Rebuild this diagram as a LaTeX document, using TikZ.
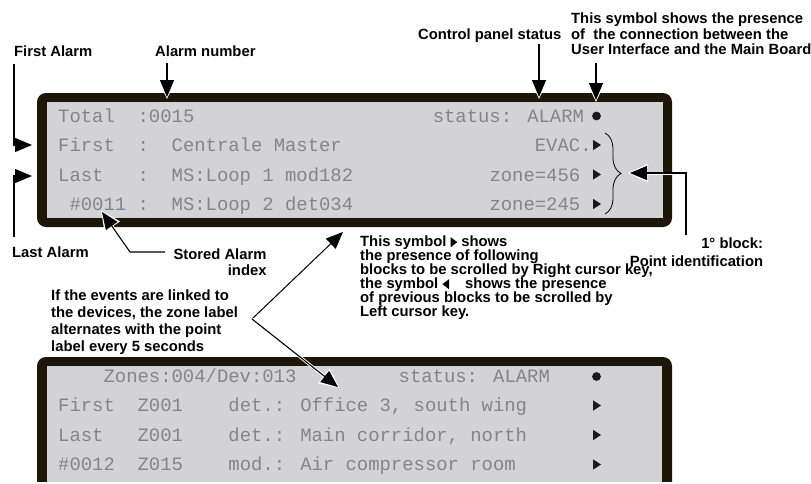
\documentclass[tikz,border=0pt]{standalone}
\usepackage{fontspec}
\setmainfont{Liberation Sans}
\newfontfamily\lcdfont{Liberation Mono}
\usetikzlibrary{arrows.meta,decorations.pathreplacing}
\definecolor{frame}{HTML}{1E1609}
\definecolor{lcdbg}{HTML}{D3D3D5}
\definecolor{lcdtxt}{HTML}{858585}
\definecolor{dotc}{HTML}{1A1A1A}
\newcommand\rtri{\tikz[x=1pt,y=1pt,baseline=0pt]\fill (0,-1)--(0,9)--(6.6,4)--cycle;}
\newcommand\ltri{\tikz[x=1pt,y=1pt,baseline=0pt]\fill (6.6,-1)--(6.6,9)--(0,4)--cycle;}
\newcommand\lcd[4]{\node[lcd] (#1) at ({58+#2*11.35},#3) {#4};}
\tikzset{
  lbl/.style={font=\fontsize{14.8}{16}\selectfont\bfseries, inner sep=0pt},
  lcd/.style={font=\lcdfont\fontsize{18.9}{20}\selectfont, text=lcdtxt, inner sep=0pt, anchor=base west},
  arr/.style={line width=1.1pt, -{Triangle[length=17pt,width=14pt]},
    preaction={draw=white, line width=3pt, shorten >=-2pt, -{Triangle[length=20pt,width=18pt]}}},
  plainarr/.style={line width=1pt, -{Triangle[length=17pt,width=14pt]}},
  rtrifill/.style={fill=dotc},
}
\begin{document}
\begin{tikzpicture}[x=1pt,y=-1pt]
\useasboundingbox (0,0) rectangle (811,483);
% ---------- top panel
\fill[frame, rounded corners=9pt] (37,93) rectangle (672,227);
\fill[lcdbg] (47,102) rectangle (663,218);
\lcd{t1a}{0}{122.3}{Total}
\lcd{t1b}{7}{122.3}{:0015}
\lcd{t1c}{33}{122.3}{status: ALARM}
\lcd{t2a}{0}{151.3}{First}
\lcd{t2b}{7}{151.3}{:}
\lcd{t2c}{10}{151.3}{Centrale Master}
\lcd{t2d}{42}{151.3}{EVAC.}
\lcd{t3a}{0}{181.3}{Last}
\lcd{t3b}{7}{181.3}{:}
\lcd{t3c}{10}{181.3}{MS:Loop 1 mod182}
\lcd{t3d}{38}{181.3}{zone=456}
\lcd{t4a}{1}{210.3}{\#0011}
\lcd{t4b}{7}{210.3}{:}
\lcd{t4c}{10}{210.3}{MS:Loop 2 det034}
\lcd{t4d}{38}{210.3}{zone=245}
\fill[dotc] (596.5,116) circle (4.4);
\foreach \yy in {145,174.5,204}{\fill[rtrifill] (593,\yy-5.2)--(593,\yy+5.2)--(601,\yy)--cycle;}
% brace
\coordinate (br1) at (605,133);
\coordinate (br2) at (605,214);
\draw[line width=0.8pt, decorate, decoration={brace, amplitude=16pt}] (br1) -- (br2);
% ---------- bottom panel
\begin{scope}
\clip (0,0) rectangle (811,481);
\fill[frame, rounded corners=9pt] (37,357) rectangle (672,520);
\fill[lcdbg] (47,366) rectangle (662,520);
\end{scope}
\lcd{b1a}{4}{382.5}{Zones:004/Dev:013}
\lcd{b1b}{30}{382.5}{status: ALARM}
\lcd{b2a}{0}{411.8}{First}
\lcd{b2b}{7}{411.8}{Z001}
\lcd{b2c}{15}{411.8}{det.: Office 3, south wing}
\lcd{b3a}{0}{441.3}{Last}
\lcd{b3b}{7}{441.3}{Z001}
\lcd{b3c}{15}{441.3}{det.: Main corridor, north}
\lcd{b4a}{0}{470.8}{\#0012}
\lcd{b4b}{7}{470.8}{Z015}
\lcd{b4c}{15}{470.8}{mod.: Air compressor room}
\fill[dotc] (596.5,376.5) circle (4.4);
\foreach \yy in {405.5,435,464.5}{\fill[rtrifill] (593,\yy-5.2)--(593,\yy+5.2)--(601,\yy)--cycle;}
% ---------- labels
\node[lbl, anchor=base west] (lFirst) at (14,56.5) {First Alarm};
\node[lbl, anchor=base west] (lAlarmNo) at (155,56.5) {Alarm number};
\node[lbl, anchor=base west] (lCtrl) at (418,39) {Control panel status};
\node[lbl, anchor=base west] (lSym1) at (571,23) {This symbol shows the presence};
\node[lbl, anchor=base west] (lSym2) at (571,39) {of\ \ the connection between the};
\node[lbl, anchor=base west] (lSym3) at (571,54.5) {User Interface and the Main Board};
\node[lbl, anchor=base west] (lLast) at (12,257.3) {Last Alarm};
\node[lbl, anchor=base east] (lStored1) at (266.7,259.3) {Stored Alarm};
\node[lbl, anchor=base east] (lStored2) at (266.7,275) {index};
\node[lbl, anchor=base east] (lBlock1) at (763.3,248.3) {1° block:};
\node[lbl, anchor=base east] (lBlock2) at (763.3,266) {Point identification};
\node[lbl, anchor=base west] (c1) at (360,246.2) {This symbol \rtri{} shows};
\node[lbl, anchor=base west] (c2) at (360,260.2) {the presence of following};
\node[lbl, anchor=base west] (c3) at (360,274.2) {blocks to be scrolled by Right cursor key,};
\node[lbl, anchor=base west] (c4) at (360,288.2) {the symbol \ltri\hspace{16pt}shows the presence};
\node[lbl, anchor=base west] (c5) at (360,302.2) {of previous blocks to be scrolled by};
\node[lbl, anchor=base west] (c6) at (360,316.2) {Left cursor key.};
\node[lbl, anchor=base west] (e1) at (51,300) {If the events are linked to};
\node[lbl, anchor=base west] (e2) at (51,317.1) {the devices, the zone label};
\node[lbl, anchor=base west] (e3) at (51,334.2) {alternates with the point};
\node[lbl, anchor=base west] (e4) at (51,351.3) {label every 5 seconds};
% ---------- connectors
\coordinate (faS) at (14,64);
\coordinate (faT) at (32,145);
\draw[arr] (faS) |- (faT);
\coordinate (laS) at (14,237);
\coordinate (laT) at (32,176);
\draw[arr] (laS) |- (laT);
\coordinate (anS) at (167,63);
\coordinate (anT) at (167,97);
\draw[arr] (anS) -- (anT);
\coordinate (cpS) at (539,44);
\coordinate (cpT) at (539,97);
\draw[arr] (cpS) -- (cpT);
\coordinate (csS) at (596,63);
\coordinate (csT) at (596,100);
\draw[arr] (csS) -- (csT);
\coordinate (saS) at (165,252);
\coordinate (saK) at (130,252);
\coordinate (saT) at (102,212);
\draw[arr] (saS) -- (saK) -- (saT);
\coordinate (pbS) at (686,235);
\coordinate (pbT) at (630,173);
\draw[arr] (pbS) |- (pbT);
\coordinate (vx) at (252,319);
\coordinate (upT) at (343,232);
\coordinate (dnT) at (338,387);
\draw[plainarr] (vx) -- (upT);
\draw[arr] (vx) -- (dnT);
\end{tikzpicture}
\end{document}
